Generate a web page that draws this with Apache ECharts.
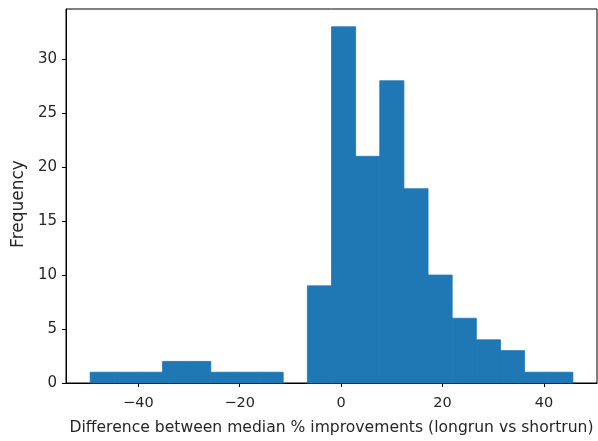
<!DOCTYPE html>
<html><head><meta charset="utf-8">
<script src="https://cdn.jsdelivr.net/npm/echarts@6/dist/echarts.min.js"></script>
<style>html,body{margin:0;padding:0;background:#fff}#c{width:598px;height:441px}</style>
</head><body><div id="c"></div>
<script>
var binEdges = [-49.5, -44.74, -39.98, -35.22, -30.46, -25.70, -20.94, -16.18, -11.42, -6.66, -1.90, 2.86, 7.62, 12.38, 17.14, 21.90, 26.66, 31.42, 36.18, 40.94, 45.70];
var counts = [1, 1, 1, 2, 2, 1, 1, 1, 0, 9, 33, 21, 28, 18, 10, 6, 4, 3, 1, 1];
var xTicks = [-40, -20, 0, 20, 40];
var yTicks = [0, 5, 10, 15, 20, 25, 30];
var xTitle = 'Difference between median % improvements (longrun vs shortrun)';
var yTitle = 'Frequency';

var data = counts.map(function (c, i) { return [binEdges[i], binEdges[i + 1], c]; });
var font = 'DejaVu Sans';
var txt = '#262626';
var chart = echarts.init(document.getElementById('c'), null, {renderer: 'canvas'});
chart.setOption({
  animation: false,
  grid: {left: 66, right: 1, top: 9, bottom: 57, show: true, borderColor: '#000', borderWidth: 1, backgroundColor: 'transparent'},
  xAxis: {
    type: 'value', min: -54.26, max: 50.46,
    name: xTitle, nameLocation: 'middle', nameGap: 37,
    nameTextStyle: {fontFamily: font, fontSize: 15.6, color: txt},
    axisLine: {show: true, onZero: false, lineStyle: {color: '#000', width: 1}},
    axisTick: {show: true, length: 4, customValues: xTicks, lineStyle: {color: '#000'}},
    axisLabel: {customValues: xTicks, fontFamily: font, fontSize: 14.5, color: txt, margin: 13,
      formatter: function (v) { return String(v).replace('-', '\u2212'); }},
    splitLine: {show: false}
  },
  yAxis: {
    type: 'value', min: 0, max: 34.65,
    name: yTitle, nameLocation: 'middle', nameGap: 34,
    nameTextStyle: {fontFamily: font, fontSize: 17, color: txt, padding: [0, 16, 0, 0]},
    axisLine: {show: true, onZero: false, lineStyle: {color: '#000', width: 1}},
    axisTick: {show: true, length: 4, customValues: yTicks, lineStyle: {color: '#000'}},
    axisLabel: {customValues: yTicks, fontFamily: font, fontSize: 15, color: txt, margin: 9},
    splitLine: {show: false}
  },
  series: [{
    type: 'custom',
    data: data,
    encode: {x: [0, 1], y: 2},
    renderItem: function (params, api) {
      if (api.value(2) <= 0) { return null; }
      var p0 = api.coord([api.value(0), 0]);
      var p1 = api.coord([api.value(1), api.value(2)]);
      return {
        type: 'rect',
        shape: {x: p0[0], y: p1[1], width: p1[0] - p0[0], height: p0[1] - p1[1]},
        style: {fill: '#1f77b4', stroke: '#1f77b4', lineWidth: 0.8}
      };
    }
  }]
});
</script></body></html>
